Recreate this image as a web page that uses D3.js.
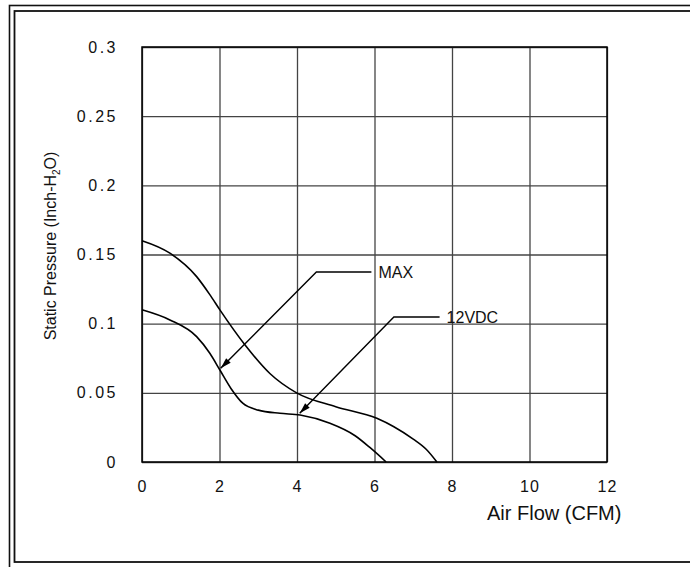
<!DOCTYPE html>
<html>
<head>
<meta charset="utf-8">
<script src="https://cdn.jsdelivr.net/npm/d3@7/dist/d3.min.js"></script>
<style>
  html, body { margin: 0; padding: 0; background: #fff; }
  svg { display: block; }
</style>
</head>
<body>
<svg id="chart" width="690" height="567"></svg>
<script>
// ---- data ----
const xTicks = [0, 2, 4, 6, 8, 10, 12];
const xTickLabels = ["0", "2", "4", "6", "8", "10", "12"];
const yTicks = [0, 0.05, 0.1, 0.15, 0.2, 0.25, 0.3];
const yTickLabels = ["0", "0.05", "0.1", "0.15", "0.2", "0.25", "0.3"];

const upperFlow = [0, 0.72, 1.41, 1.75, 2.01, 2.66, 3.3, 3.99, 5.0, 6.06, 6.5, 7.0, 7.34, 7.61];
const upperPressure = [0.160, 0.151, 0.134, 0.121, 0.110, 0.0846, 0.064, 0.050, 0.040, 0.0316, 0.0255, 0.0165, 0.0090, 0];

const lowerFlow = [0, 0.72, 1.41, 1.75, 2.01, 2.3, 2.6, 3.0, 3.56, 4.08, 4.85, 5.5, 5.88, 6.3];
const lowerPressure = [0.110, 0.1027, 0.0906, 0.0786, 0.0665, 0.053, 0.0425, 0.0375, 0.0352, 0.034, 0.028, 0.019, 0.0105, 0];

const calloutNames = ["MAX", "12VDC"];
const calloutTipX = [2.03, 4.07];
const calloutTipY = [0.0678, 0.0352];
const calloutElbowX = [4.50, 6.50];
const calloutElbowY = [0.1374, 0.1048];
const calloutEndX = [5.92, 7.68];

// ---- layout ----
const svg = d3.select("#chart");
const pL = 142, pR = 607, pT = 47, pB = 462;
const x = d3.scaleLinear().domain([0, 12]).range([pL, pR]);
const y = d3.scaleLinear().domain([0, 0.3]).range([pB, pT]);

// frame
svg.append("rect").attr("x", 9.5).attr("y", 5.5).attr("width", 720).attr("height", 620)
  .attr("fill", "none").attr("stroke", "#111").attr("stroke-width", 1.6);
svg.append("rect").attr("x", 14.5).attr("y", 11).attr("width", 720).attr("height", 551)
  .attr("fill", "none").attr("stroke", "#111").attr("stroke-width", 1.8);

// grid
const gridX = svg.append("g").attr("transform", `translate(0,${pB})`)
  .call(d3.axisBottom(x).tickValues(xTicks).tickSize(-(pB - pT)).tickFormat(""));
gridX.select(".domain").remove();
gridX.selectAll(".tick line").attr("stroke", "#444").attr("stroke-width", 1.3);

const gridY = svg.append("g").attr("transform", `translate(${pL},0)`)
  .call(d3.axisLeft(y).tickValues(yTicks).tickSize(-(pR - pL)).tickFormat(""));
gridY.select(".domain").remove();
gridY.selectAll(".tick line").attr("stroke", "#444").attr("stroke-width", 1.3);

// plot border
svg.append("rect").attr("x", pL).attr("y", pT).attr("width", pR - pL).attr("height", pB - pT)
  .attr("fill", "none").attr("stroke", "#000").attr("stroke-width", 1.5);

// tick labels
const tickFont = "'Liberation Sans', Arial, sans-serif";
const axX = svg.append("g").attr("transform", `translate(0,${pB})`)
  .call(d3.axisBottom(x).tickValues(xTicks).tickSize(0).tickPadding(19)
    .tickFormat((d, i) => xTickLabels[i]));
axX.select(".domain").remove();
axX.selectAll("text").attr("font-family", tickFont).attr("font-size", 16)
  .attr("letter-spacing", 1).attr("fill", "#111");

const axY = svg.append("g").attr("transform", `translate(${pL},0)`)
  .call(d3.axisLeft(y).tickValues(yTicks).tickSize(0).tickPadding(24)
    .tickFormat((d, i) => yTickLabels[i]));
axY.select(".domain").remove();
axY.selectAll("text").attr("font-family", tickFont).attr("font-size", 16)
  .attr("letter-spacing", 2.5).attr("fill", "#111");

// axis titles
svg.append("text").attr("x", 487).attr("y", 520)
  .attr("font-family", "'Liberation Sans', Arial, sans-serif").attr("font-size", 20).attr("fill", "#111")
  .text("Air Flow (CFM)");

const yt = svg.append("text").attr("transform", "translate(56,246) rotate(-90)")
  .attr("text-anchor", "middle")
  .attr("font-family", "'Liberation Sans', Arial, sans-serif").attr("font-size", 16).attr("fill", "#111");
yt.append("tspan").text("Static Pressure (Inch-H");
yt.append("tspan").attr("font-size", 10).attr("dy", 4).text("2");
yt.append("tspan").attr("dy", -4).text("O)");

// curves
const line = d3.line().x(d => x(d[0])).y(d => y(d[1])).curve(d3.curveMonotoneX);
const upper = upperFlow.map((v, i) => [v, upperPressure[i]]);
const lower = lowerFlow.map((v, i) => [v, lowerPressure[i]]);
[upper, lower].forEach(s => {
  svg.append("path").attr("d", line(s)).attr("fill", "none").attr("stroke", "#000").attr("stroke-width", 1.6);
});

// callouts
calloutNames.forEach((name, i) => {
  const tx = x(calloutTipX[i]), ty = y(calloutTipY[i]);
  const ex = x(calloutElbowX[i]), ey = y(calloutElbowY[i]);
  const lx = x(calloutEndX[i]);
  svg.append("polyline").attr("points", `${tx},${ty} ${ex},${ey} ${lx},${ey}`)
    .attr("fill", "none").attr("stroke", "#000").attr("stroke-width", 1.4);
  const ang = Math.atan2(ey - ty, ex - tx);
  const L = 11, W = 3.2;
  const bx = tx + L * Math.cos(ang), by = ty + L * Math.sin(ang);
  const px = -Math.sin(ang) * W, py = Math.cos(ang) * W;
  svg.append("polygon").attr("points", `${tx},${ty} ${bx + px},${by + py} ${bx - px},${by - py}`)
    .attr("fill", "#000");
  svg.append("text").attr("x", lx + 7).attr("y", ey + 6)
    .attr("font-family", "'Liberation Sans', Arial, sans-serif").attr("font-size", 16).attr("fill", "#111")
    .text(name);
});
</script>
</body>
</html>
